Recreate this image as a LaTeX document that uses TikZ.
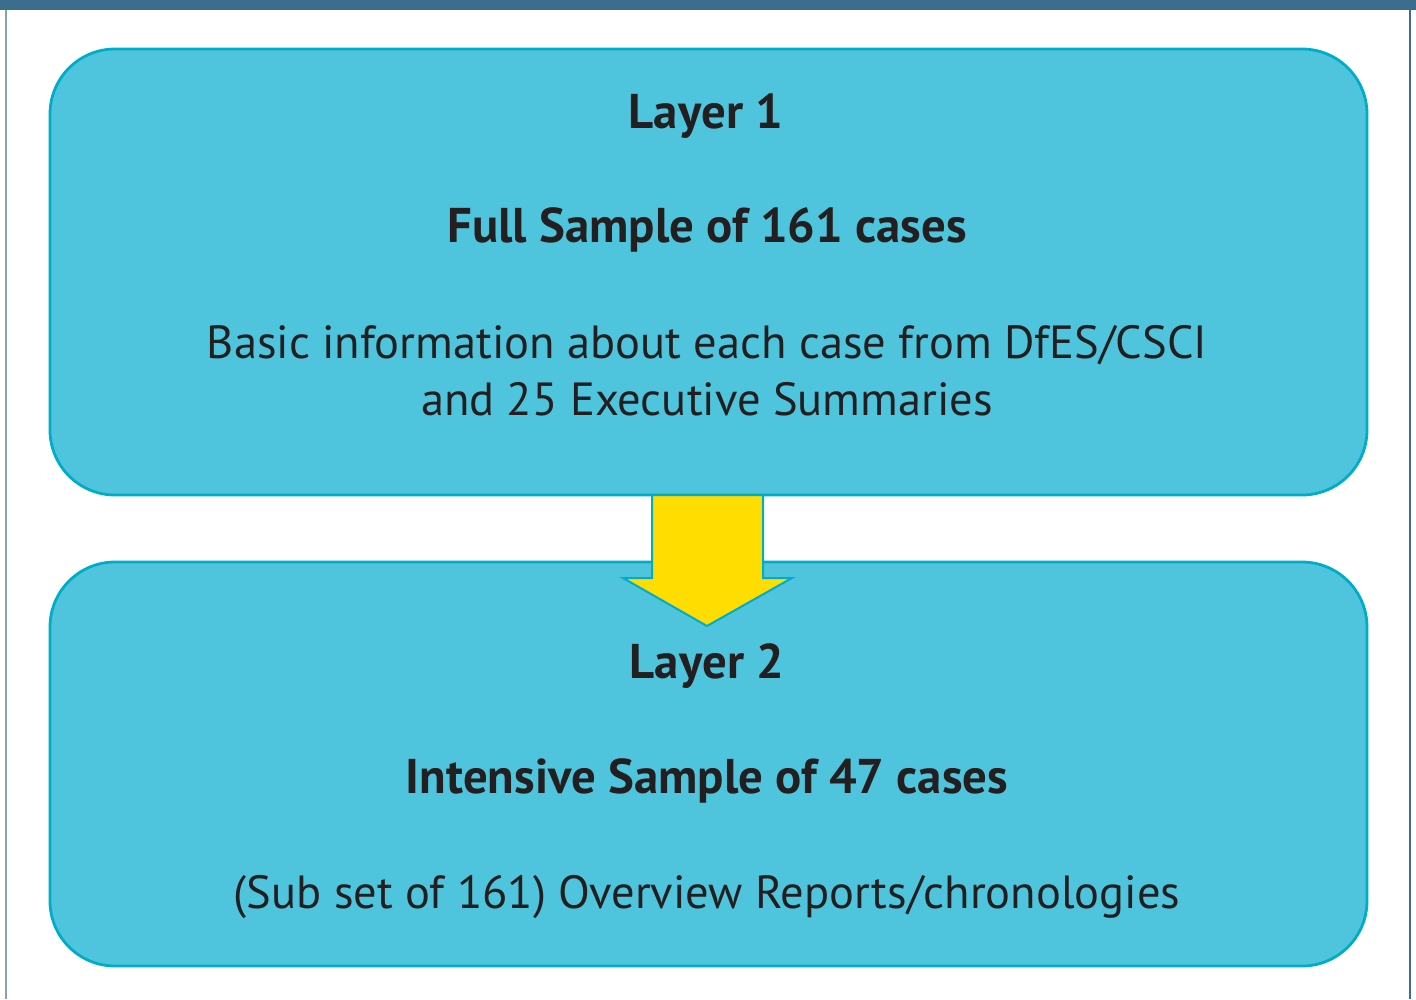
\documentclass[tikz,border=0pt]{standalone}
\usepackage{fontspec}
\setmainfont{PT Sans}
\definecolor{boxfill}{HTML}{4FC5DD}
\definecolor{boxline}{HTML}{00ADC9}
\definecolor{band}{HTML}{3B6D8D}
\definecolor{sideL}{HTML}{86A3B8}
\definecolor{arrowy}{HTML}{FFDD00}
\definecolor{txt}{HTML}{231F20}
\begin{document}
\begin{tikzpicture}[x=1pt,y=-1pt,
  layerbox/.style={fill=boxfill,draw=boxline,line width=2.8pt,rounded corners=65pt},
  title/.style={anchor=base,text=txt,font=\fontsize{48.8}{57}\selectfont\bfseries,inner sep=0pt},
  body/.style={anchor=base,text=txt,font=\fontsize{46.5}{57}\selectfont,inner sep=0pt,align=center}]
\useasboundingbox (0,0) rectangle (1416,999);
\fill[white] (0,0) rectangle (1416,999);
\fill[band] (0,0) rectangle (1416,10);
\draw[sideL,line width=2pt] (6,10) -- (6,999);
\draw[band,line width=2pt] (1410,10) -- (1410,999);
\draw[layerbox] (50,49) rectangle (1367,495);
\draw[layerbox] (50,562) rectangle (1367,966);
\draw[fill=arrowy,draw=boxline,line width=2pt,line join=miter]
  (652,495) -- (763,495) -- (763,578) -- (792,578) -- (707,626) -- (623,578) -- (652,578) -- cycle;
\node[title] (l1) at (706,128) {Layer 1};
\node[title] (f1) at (707,242) {Full Sample of 161 cases};
\node[body] (b1) at (707,358) {Basic information about each case from DfES/CSCI};
\node[body] (b2) at (707,415) {and 25 Executive Summaries};
\node[title] (l2) at (707,678) {Layer 2};
\node[title] (f2) at (707,793) {Intensive Sample of 47 cases};
\node[body] (b3) at (707,908) {(Sub set of 161) Overview Reports/chronologies};
\end{tikzpicture}
\end{document}
